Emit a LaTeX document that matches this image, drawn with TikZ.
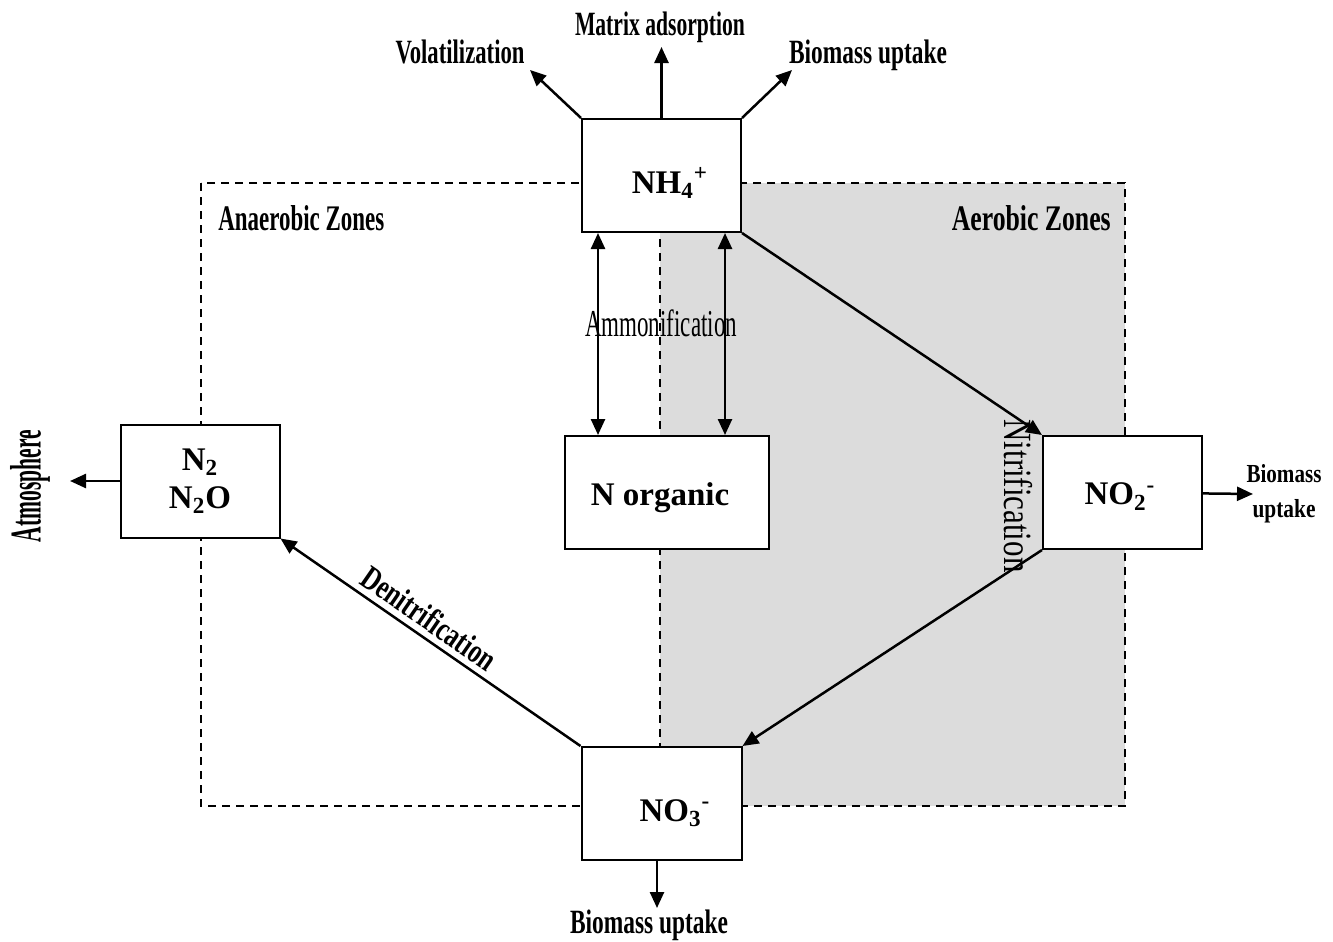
\documentclass[tikz,border=0pt]{standalone}
\usepackage{fontspec}
\setmainfont{Liberation Serif}
\usetikzlibrary{arrows.meta,calc,positioning}
\definecolor{zonegray}{RGB}{220,220,220}
\newcommand{\fitw}[2]{\resizebox{#1}{\height}{#2}}
\newcommand{\nudge}[3]{\raisebox{#2}[\height][\depth]{\hspace*{#1}#3\hspace*{-#1}}}

\begin{document}
\begin{tikzpicture}[x=0.5pt,y=-0.5pt,->,>={Triangle[length=8pt,width=7pt]},
    line width=1.25pt]
\tikzstyle{pool}=[draw, fill=white, line width=1pt, minimum width=79.5pt, minimum height=56.5pt,
    inner sep=0pt, align=center, font=\fontsize{16.5}{19}\selectfont\bfseries]
\tikzstyle{zone}=[-, dash pattern=on 4pt off 3pt, line width=0.8pt]
\tikzstyle{tag}=[inner sep=0pt, font=\fontsize{17}{19}\selectfont\bfseries]
\tikzstyle{process}=[inner sep=0pt, font=\fontsize{19}{22}\selectfont]

\useasboundingbox (0,0) rectangle (1333,942);

% anaerobic / aerobic zones
\fill[zonegray] (660,183) rectangle (1125,806);
\draw[zone] (201,183) rectangle (1125,806);
\draw[zone] (660,183) -- (660,806);

\node[pool]                    (nh4)  at (661.5,175.5) {\nudge{4.25pt}{-3.75pt}{NH\textsubscript{4}\textsuperscript{+}}};
\node[pool]                    (n2)   at (200,481)     {N\textsubscript{2}\\N\textsubscript{2}O};
\node[pool, minimum width=102pt] (norg) at (667,492.5)   {\nudge{-3.5pt}{-2.5pt}{N organic}};
\node[pool]                    (no2)  at (1122.5,492.5) {\nudge{-1.25pt}{-2pt}{NO\textsubscript{2}\textsuperscript{-}}};
\node[pool, minimum width=80pt] (no3)  at (661.5,803.5) {\nudge{6.75pt}{-4.75pt}{NO\textsubscript{3}\textsuperscript{-}}};

\node[tag] (vol)  at (460,52)  {\fitw{64.5pt}{Volatilization}};
\node[tag] (mat)  at (660,27)  {\fitw{85pt}{Matrix adsorption}};
\node[tag] (bioA) at (868,55)  {\fitw{79pt}{Biomass uptake}};
\node[tag] (bioB) at (649,925) {\fitw{79pt}{Biomass uptake}};
\node[tag, align=center, font=\fontsize{13}{17.5}\selectfont\bfseries]
           (bioC) at (1284,494) {\fitw{37.5pt}{Biomass}\\\fitw{31.5pt}{uptake}};
\node[tag, rotate=90, font=\fontsize{22}{24}\selectfont\bfseries]
           (atm)  at (30,486)  {\fitw{56pt}{Atmosphere}};

\node[tag, anchor=west, font=\fontsize{18}{20}\selectfont\bfseries]
           (anaer) at (217,218) {\fitw{83pt}{Anaerobic Zones}};
\node[tag, anchor=east, font=\fontsize{18}{20}\selectfont\bfseries]
           (aer)   at (1112,218) {\fitw{79.5pt}{Aerobic Zones}};
\node[process] (amm) at (661,323) {\fitw{76pt}{Ammonification}};
\node[process, rotate=-90, font=\fontsize{20}{22}\selectfont] (nit) at (1018,496) {\fitw{76.5pt}{Nitrification}};

\coordinate (volEnd) at (530,70);
\coordinate (matEnd) at (661.5,47);
\coordinate (bioEnd) at (792,70);
\coordinate (atmEnd) at (70,481);
\coordinate (no2End) at (1253,494);
\coordinate (no3End) at (657,908);

\path   (nh4.north west) edge (volEnd)
        (nh4.north)      edge (matEnd)
        (nh4.north east) edge (bioEnd)
        (n2)             edge (atmEnd)
        (no2)            edge (no2End)
        (no3.south -| no3End) edge (no3End)

        (nh4.south east) edge (no2.north west)
        (no2.south west) edge (no3.north east)
        (n2.south east)  edge[<-] node[tag, sloped, above=3pt, pos=0.46]
                              {\fitw{78pt}{Denitrification}} (no3.north west);

\draw[<->] ($(nh4.south west)+(17,0)$) -- ($(norg.north west)+(34,0)$);
\draw[<->] ($(nh4.south west)+(144,0)$) -- ($(norg.north west)+(161,0)$);

\end{tikzpicture}
\end{document}
